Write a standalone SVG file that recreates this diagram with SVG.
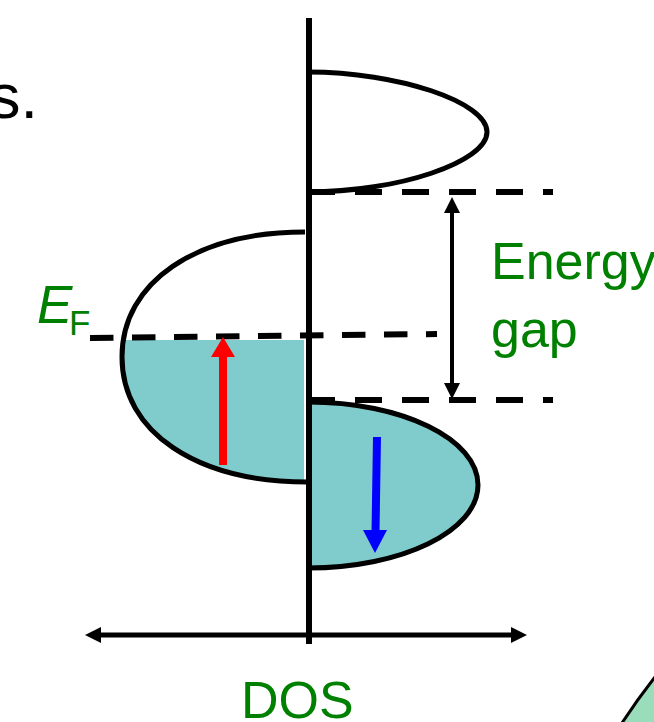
<svg xmlns="http://www.w3.org/2000/svg" width="654" height="722" viewBox="0 0 654 722">
<style>
.lbl{font-family:"Liberation Sans",Arial,sans-serif;fill:#008000}
.ln{stroke:#000;fill:none}
.dash{stroke:#000;stroke-width:6;fill:none}
.lobe{stroke:#000;stroke-width:5;fill:none}
</style>
<defs>
<clipPath id="fillclip"><rect x="0" y="340" width="304" height="200"/></clipPath>
</defs>
<rect width="654" height="722" fill="#fff"/>
<text x="38" y="118" text-anchor="end" font-family="Liberation Sans,Arial,sans-serif" font-size="63" fill="#000">s.</text>
<g id="upper-band">
<path class="lobe" d="M308,72 C398,72 487,102 487,132 C487,162 398,192 308,192"/>
</g>
<g id="left-band">
<path d="M305,232 C196,232 122,282 122,357 C122,432 196,482 308,482 Z" fill="#80CCCC" clip-path="url(#fillclip)"/>
<path class="lobe" d="M305,232 C196,232 122,282 122,357 C122,432 196,482 308,482"/>
</g>
<g id="right-band">
<path d="M308,402 C402,402 478,439 478,485 C478,531 402,568 308,568 Z" fill="#80CCCC"/>
<path class="lobe" d="M308,402 C402,402 478,439 478,485 C478,531 402,568 308,568"/>
</g>
<g id="connectors">
<line class="ln" x1="309" y1="18" x2="309" y2="644" stroke-width="6"/>
<line class="dash" x1="308" y1="192" x2="553" y2="192" stroke-dasharray="27 20"/>
<line class="dash" x1="308" y1="400" x2="553" y2="400" stroke-dasharray="27 20"/>
<line class="dash" x1="90" y1="338" x2="437" y2="334" stroke-dasharray="23.5 18.5"/>
<line class="ln" x1="452" y1="210" x2="452" y2="385" stroke-width="4"/>
<polygon points="452,197 444,213 460,213" fill="#000"/>
<polygon points="452,399 444,383 460,383" fill="#000"/>
<line class="ln" x1="99" y1="635" x2="513" y2="635" stroke-width="5"/>
<polygon points="85,635 101,627 101,643" fill="#000"/>
<polygon points="527,635 511,627 511,643" fill="#000"/>
<line x1="223" y1="465" x2="223" y2="354" stroke="#f00" stroke-width="8"/>
<polygon points="223,337 211,357 235,357" fill="#f00"/>
<line x1="377" y1="437" x2="375.5" y2="532" stroke="#00f" stroke-width="8"/>
<polygon points="375,553 363,530 387,530" fill="#00f"/>
</g>
<g id="labels">
<text class="lbl" x="491" y="279" font-size="52">Energy</text>
<text class="lbl" x="491" y="347" font-size="52">gap</text>
<text class="lbl" x="241" y="718" font-size="52">DOS</text>
<text class="lbl" x="37" y="323" font-size="53" font-style="italic">E</text>
<text class="lbl" x="69" y="335" font-size="35">F</text>
</g>
<g id="corner">
<path d="M622,723 Q637,700 655,677 L655,723 Z" fill="#99DDBB"/>
<path d="M622,723 Q637,700 655,677" stroke="#000" stroke-width="3" fill="none"/>
</g>
</svg>
